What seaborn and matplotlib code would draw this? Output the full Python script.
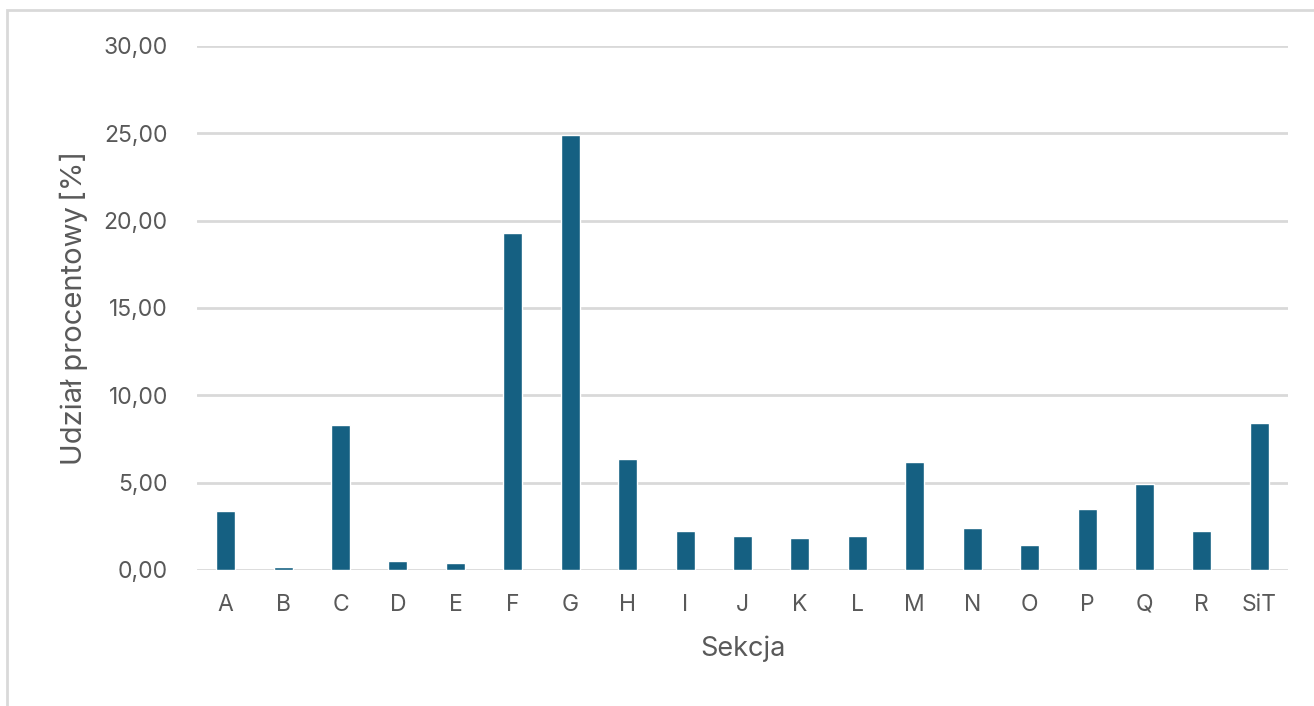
import matplotlib
matplotlib.use("Agg")
import matplotlib.pyplot as plt
import seaborn as sns
import pandas as pd
from matplotlib.patches import Rectangle
from matplotlib.ticker import FuncFormatter

# Udział sekcji PKD [%]
sekcje = ["A", "B", "C", "D", "E", "F", "G", "H", "I", "J",
          "K", "L", "M", "N", "O", "P", "Q", "R", "SiT"]
udzial = [3.38, 0.17, 8.30, 0.52, 0.42, 19.30, 24.90, 6.35, 2.23, 1.95,
          1.85, 1.95, 6.18, 2.40, 1.43, 3.49, 4.92, 2.23, 8.41]

df = pd.DataFrame({"Sekcja": sekcje, "Udzial": udzial})

sns.set_theme(style="white")
plt.rcParams["font.family"] = ["Inter", "DejaVu Sans"]

text_col = "#595959"
grid_col = "#D9D9D9"
bar_col = "#156082"

fig = plt.figure(figsize=(13.14, 7.06), dpi=100)
ax = fig.add_axes([197 / 1314, 1 - 570 / 706, (1288 - 197) / 1314, (570 - 46) / 706])

sns.barplot(data=df, x="Sekcja", y="Udzial", color=bar_col, width=0.33,
            saturation=1, ax=ax, zorder=3)

ax.set_ylim(0, 30)
ax.set_xlim(-0.5, len(sekcje) - 0.5)
ax.set_yticks(range(0, 31, 5))
ax.yaxis.set_major_formatter(FuncFormatter(lambda v, p: f"{v:.2f}".replace(".", ",")))
ax.grid(axis="y", color=grid_col, linewidth=2.0, zorder=0)
ax.grid(axis="x", visible=False)
for s in ["top", "right", "left", "bottom"]:
    ax.spines[s].set_visible(False)
ax.tick_params(axis="both", length=0, labelsize=16.5, labelcolor=text_col)
ax.tick_params(axis="y", pad=21)
ax.tick_params(axis="x", pad=17)

ax.set_xlabel("Sekcja", fontsize=19.5, color=text_col, labelpad=14)
ax.set_ylabel("Udział procentowy\u2009[%]", fontsize=21, color=text_col, labelpad=11)

# ramka wykresu
fig.patches.append(Rectangle((7 / 1314, -0.1), 1.2, 1.1 - 10 / 706,
                             transform=fig.transFigure, fill=False,
                             edgecolor="#D9D9D9", linewidth=2, zorder=0))

fig.savefig("out.png", dpi=100, facecolor="white")
